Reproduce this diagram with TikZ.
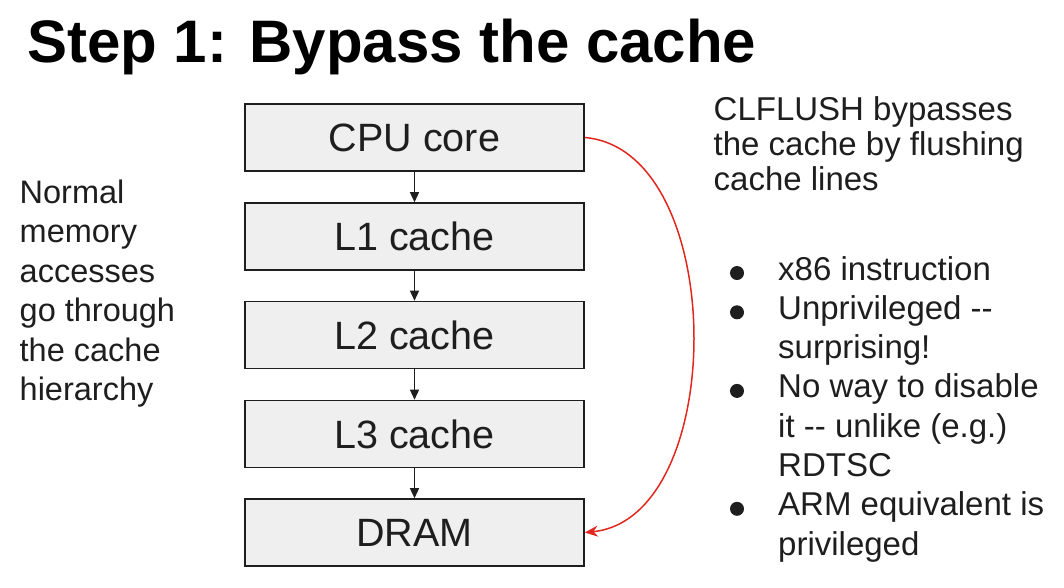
\documentclass[tikz,border=0pt]{standalone}
\usepackage{fontspec}
\setmainfont{Liberation Sans}
\usetikzlibrary{arrows.meta}
\definecolor{boxfill}{HTML}{EFEFEF}
\definecolor{flushred}{HTML}{E0281E}
\definecolor{ink}{HTML}{1E1E1E}
\begin{document}
\begin{tikzpicture}[x=1pt,y=-1pt,
  level/.style={draw=ink, line width=1.6pt, fill=boxfill, minimum width=339pt, minimum height=67pt, inner sep=0pt, font=\fontsize{39.5}{47}\selectfont, text=ink},
  flow/.style={-{Triangle[length=10pt,width=9pt]}, line width=1.3pt, draw=ink},
  bypass/.style={draw=flushred, line width=1.5pt, -{Stealth[length=13pt,width=11pt]}},
  body/.style={font=\fontsize{33}{39}\selectfont, text=ink, inner sep=0pt, anchor=base west},
  dot/.style={fill=ink}]
\useasboundingbox (0,0) rectangle (1064,587);
% title
\node[anchor=base west, inner sep=0pt, font=\fontsize{60}{72}\selectfont\bfseries] (title) at (27,62) {Step 1: Bypass the cache};
% hierarchy
\node[level] (cpu) at (414.5,137.5) {CPU core};
\node[level] (l1) at (414.5,236.5) {L1 cache};
\node[level] (l2) at (414.5,335) {L2 cache};
\node[level] (l3) at (414.5,434) {L3 cache};
\node[level] (dram) at (414.5,532.5) {DRAM};
\draw[flow] (cpu.south) -- (l1.north);
\draw[flow] (l1.south) -- (l2.north);
\draw[flow] (l2.south) -- (l3.north);
\draw[flow] (l3.south) -- (dram.north);
\draw[bypass] (cpu.east) .. controls (729,150) and (729,518) .. (dram.east);
% left text
\foreach \t [count=\i from 0] in {{Normal},{memory},{accesses},{go through},{the cache},{hierarchy}}
  \node[body, font=\fontsize{32.5}{39}\selectfont] (left\i) at (19.5,{203+39.5*\i}) {\t};
% right header
\node[body] (hd0) at (713.5,120) {CLFLUSH bypasses};
\node[body] (hd1) at (713.5,155) {the cache by flushing};
\node[body] (hd2) at (713.5,190) {cache lines};
% bullet lines
\foreach \t [count=\i from 0] in {{x86 instruction},{Unprivileged -{}-},{surprising!},{No way to disable},{it -{}- unlike (e.g.)},{RDTSC},{ARM equivalent is},{privileged}}
  \node[body] (bl\i) at (778,{280+39.3*\i}) {\t};
\foreach \i in {0,1,3,6}
  \fill[dot] (737,{280+39.3*\i-7}) circle[radius=7pt];
\end{tikzpicture}
\end{document}
